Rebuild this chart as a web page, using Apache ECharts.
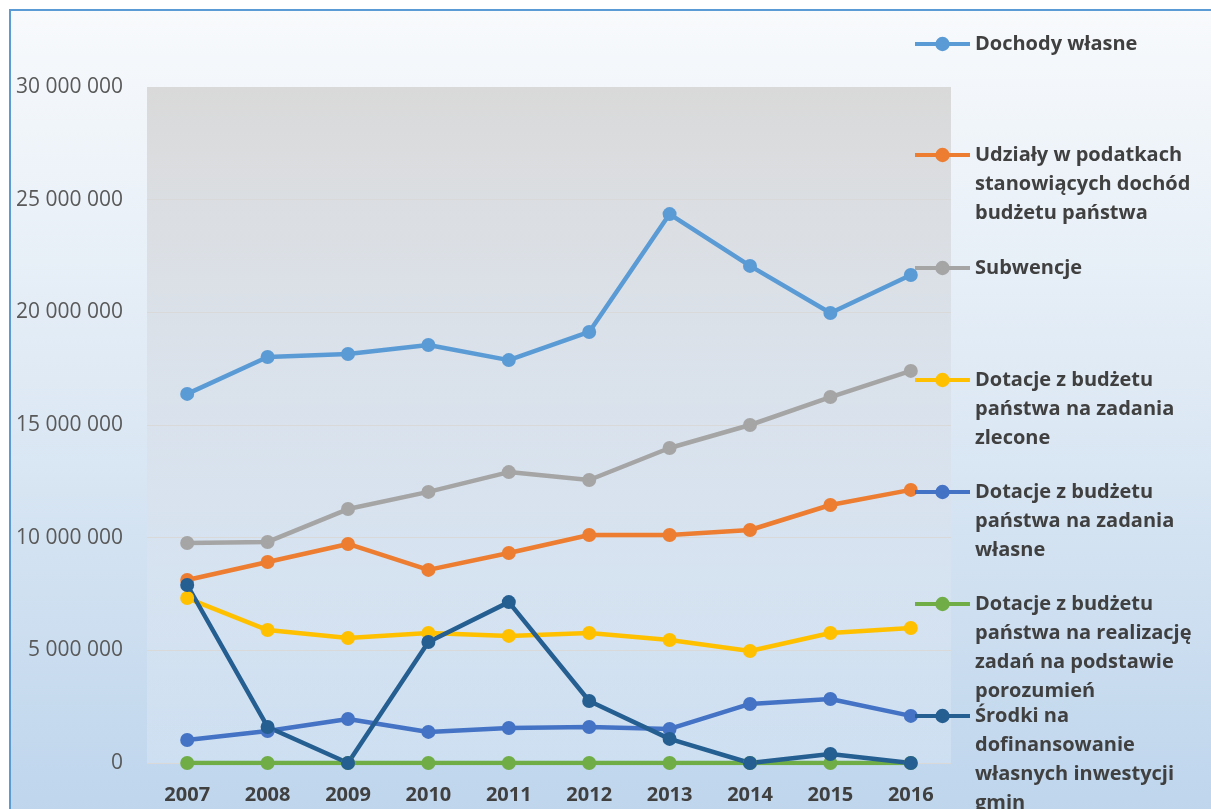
<!DOCTYPE html>
<html>
<head>
<meta charset="utf-8">
<script src="https://cdn.jsdelivr.net/npm/echarts@6/dist/echarts.min.js"></script>
<style>
html,body{margin:0;padding:0;background:#fff;}
#chart{width:1211px;height:809px;}
</style>
</head>
<body>
<div id="chart"></div>
<script>
const years = ['2007','2008','2009','2010','2011','2012','2013','2014','2015','2016'];

const seriesNames = [
  'Dochody własne',
  'Udziały w podatkach stanowiących dochód budżetu państwa',
  'Subwencje',
  'Dotacje z budżetu państwa na zadania zlecone',
  'Dotacje z budżetu państwa na zadania własne',
  'Dotacje z budżetu państwa na realizację zadań na podstawie porozumień',
  'Środki na dofinansowanie własnych inwestycji gmin'
];

const legendLabels = [
  'Dochody własne',
  'Udziały w podatkach\nstanowiących dochód\nbudżetu państwa',
  'Subwencje',
  'Dotacje z budżetu\npaństwa na zadania\nzlecone',
  'Dotacje z budżetu\npaństwa na zadania\nwłasne',
  'Dotacje z budżetu\npaństwa na realizację\nzadań na podstawie\nporozumień',
  'Środki na\ndofinansowanie\nwłasnych inwestycji\ngmin'
];

const dochodyWlasne   = [16380000, 18020000, 18150000, 18550000, 17880000, 19130000, 24360000, 22060000, 19970000, 21660000];
const udzialy         = [8120000, 8920000, 9720000, 8570000, 9320000, 10120000, 10120000, 10340000, 11450000, 12120000];
const subwencje       = [9760000, 9810000, 11270000, 12030000, 12910000, 12560000, 13980000, 15000000, 16240000, 17400000];
const dotacjeZlecone  = [7320000, 5900000, 5550000, 5770000, 5640000, 5770000, 5460000, 4970000, 5770000, 5990000];
const dotacjeWlasne   = [1020000, 1420000, 1950000, 1380000, 1550000, 1600000, 1510000, 2620000, 2840000, 2090000];
const dotacjePorozum  = [0, 0, 0, 0, 0, 0, 0, 0, 0, 0];
const srodkiInwest    = [7900000, 1600000, 0, 5370000, 7140000, 2750000, 1070000, 0, 400000, 0];

const yTicks = [0, 5000000, 10000000, 15000000, 20000000, 25000000, 30000000];

const seriesData = [dochodyWlasne, udzialy, subwencje, dotacjeZlecone, dotacjeWlasne, dotacjePorozum, srodkiInwest];
const colors = ['#5B9BD5', '#ED7D31', '#A5A5A5', '#FFC000', '#4472C4', '#70AD47', '#255E91'];

const legendCenters = [44, 155, 268, 380, 492, 604, 716];
const LH = 29;

function fmt(v) {
  return String(v).replace(/\B(?=(\d{3})+(?!\d))/g, ' ');
}

const chart = echarts.init(document.getElementById('chart'), null, {renderer: 'canvas'});

const legends = seriesNames.map((name, i) => {
  const n = legendLabels[i].split('\n').length;
  const pre = '\n'.repeat(n - 1);
  return {
    orient: 'vertical',
    left: 913,
    top: legendCenters[i] - (2 * n - 1) * LH / 2,
    padding: 0,
    itemWidth: 55,
    itemHeight: 18,
    data: [name],
    formatter: () => pre + legendLabels[i],
    lineStyle: {width: 4},
    textStyle: {
      fontFamily: 'Open Sans',
      fontWeight: 'bold',
      fontSize: 20,
      color: '#404040',
      lineHeight: LH
    }
  };
});

const option = {
  animation: false,
  graphic: {
    elements: [{
      type: 'rect',
      z: -100,
      silent: true,
      shape: {x: 10, y: 10, width: 1230, height: 830},
      style: {
        fill: {
          type: 'linear', x: 0, y: 0, x2: 0, y2: 1,
          colorStops: [
            {offset: 0, color: '#F8FAFC'},
            {offset: 0.5, color: '#DCE8F4'},
            {offset: 1, color: '#BCD4EC'}
          ]
        },
        stroke: '#5B9BD5',
        lineWidth: 2
      }
    }]
  },
  grid: {
    left: 147, top: 87, right: 260, bottom: 46,
    show: true,
    borderWidth: 0,
    backgroundColor: {
      type: 'linear', x: 0, y: 0, x2: 0, y2: 1,
      colorStops: [
        {offset: 0, color: 'rgba(217,217,217,1)'},
        {offset: 0.5, color: 'rgba(215,222,232,0.6)'},
        {offset: 1, color: 'rgba(225,236,248,0.35)'}
      ]
    }
  },
  legend: legends,
  xAxis: {
    type: 'category',
    data: years,
    boundaryGap: true,
    axisLine: {show: false},
    axisTick: {show: false},
    axisLabel: {
      margin: 22,
      fontFamily: 'Open Sans',
      fontWeight: 'bold',
      fontSize: 20,
      color: '#404040'
    }
  },
  yAxis: {
    type: 'value',
    min: 0,
    max: 30000000,
    interval: 5000000,
    axisLine: {show: false},
    axisTick: {show: false},
    splitLine: {lineStyle: {color: '#D9D9D9', width: 1}},
    axisLabel: {
      margin: 24,
      fontFamily: 'Open Sans',
      fontSize: 21,
      color: '#595959',
      formatter: v => yTicks.includes(v) ? fmt(v) : ''
    }
  },
  series: seriesNames.map((name, i) => ({
    name: name,
    type: 'line',
    data: seriesData[i],
    symbol: 'circle',
    symbolSize: 14,
    lineStyle: {width: 4.5, color: colors[i]},
    itemStyle: {color: colors[i]},
    emphasis: {disabled: true}
  }))
};

chart.setOption(option);
</script>
</body>
</html>
